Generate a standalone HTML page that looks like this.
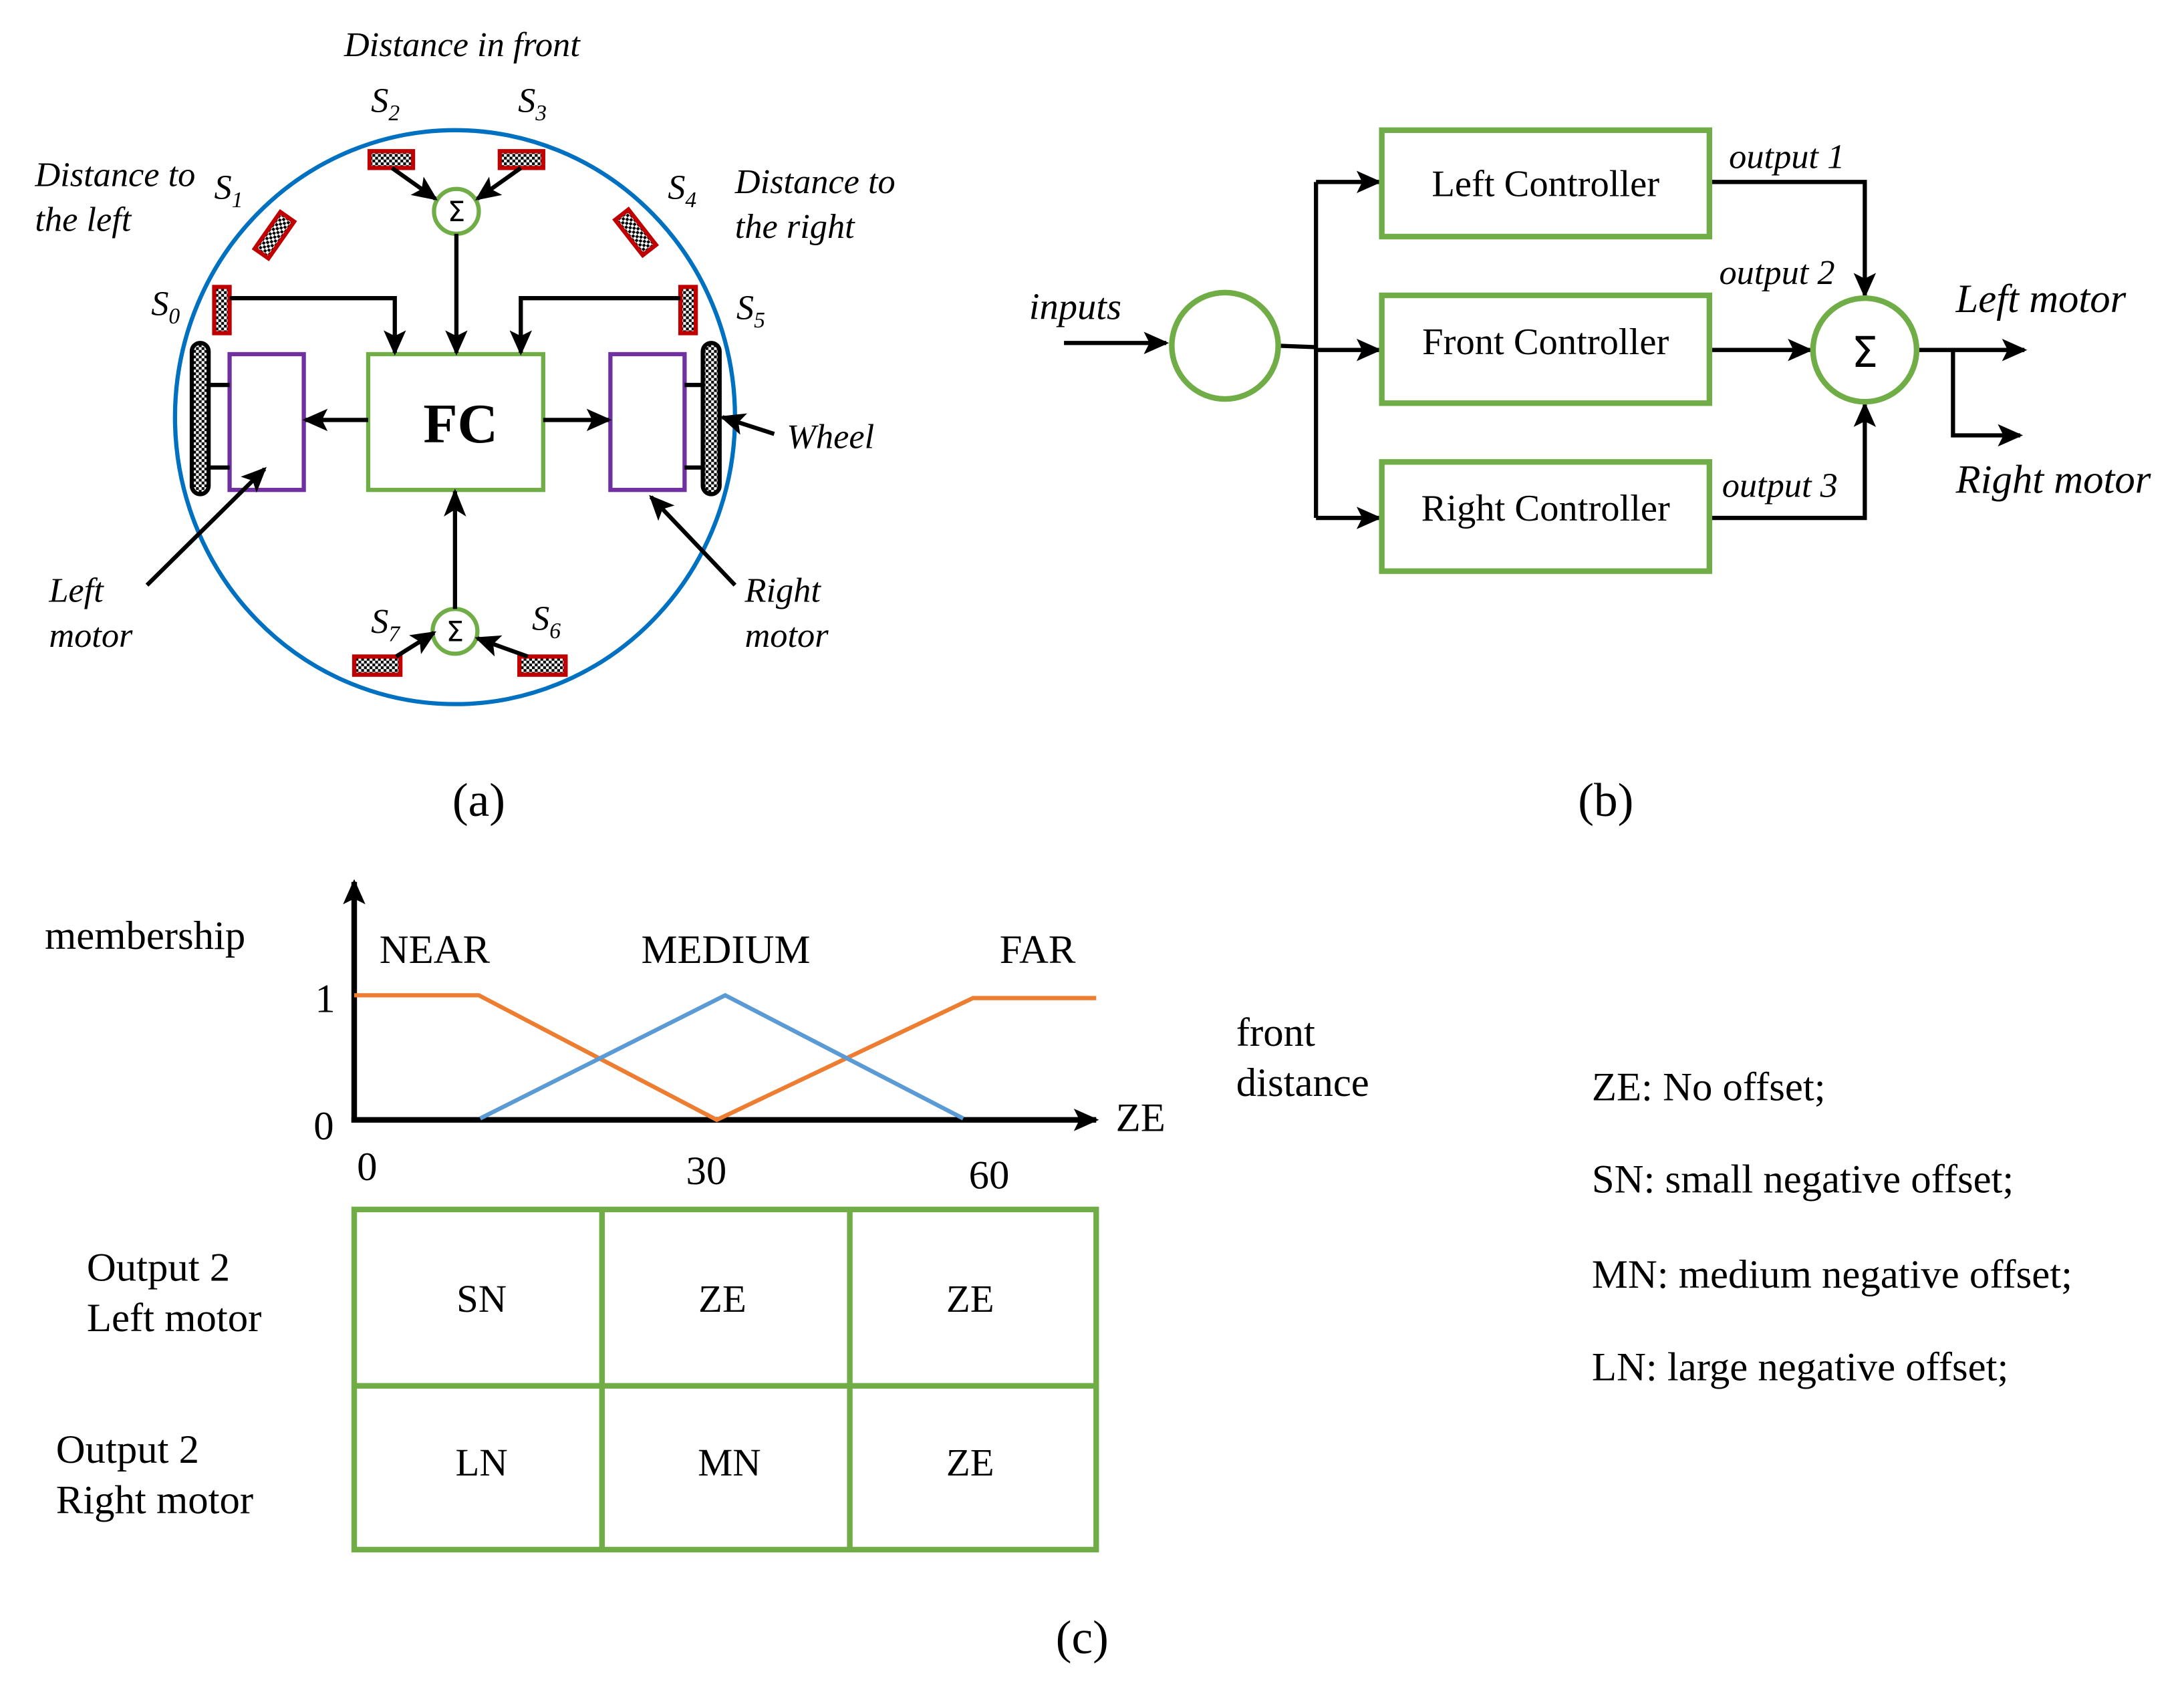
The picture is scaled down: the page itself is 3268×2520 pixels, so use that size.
<!DOCTYPE html>
<html><head><meta charset="utf-8"><style>html,body{margin:0;padding:0;background:#fff}svg{display:block}</style></head>
<body>
<svg width="3268" height="2520" viewBox="0 0 1560 1203" preserveAspectRatio="none" xmlns="http://www.w3.org/2000/svg" font-family="Liberation Serif, serif">
<defs>
<pattern id="ck" width="4" height="4" patternUnits="userSpaceOnUse"><rect width="4" height="4" fill="#fff"/><rect width="2" height="2" fill="#000"/><rect x="2" y="2" width="2" height="2" fill="#000"/></pattern>
<marker id="ab" markerWidth="20" markerHeight="16" refX="18" refY="8" orient="auto" markerUnits="userSpaceOnUse"><path d="M0,0 L20,8 L0,16 L5,8z" fill="#000"/></marker>
<marker id="am" markerWidth="18" markerHeight="16" refX="16" refY="8" orient="auto" markerUnits="userSpaceOnUse"><path d="M0,0 L18,8 L0,16 L4,8z" fill="#000"/></marker>
</defs>
<g font-style="italic" font-size="25" fill="#000">
<text x="330" y="40" text-anchor="middle">Distance in front</text>
<text x="265" y="80">S<tspan font-size="16" dy="6">2</tspan></text>
<text x="370" y="80">S<tspan font-size="16" dy="6">3</tspan></text>
<text x="25" y="133">Distance to</text><text x="25" y="165">the left</text>
<text x="153" y="142">S<tspan font-size="16" dy="6">1</tspan></text>
<text x="525" y="138">Distance to</text><text x="525" y="170">the right</text>
<text x="477" y="142">S<tspan font-size="16" dy="6">4</tspan></text>
<text x="108" y="225">S<tspan font-size="16" dy="6">0</tspan></text>
<text x="526" y="228">S<tspan font-size="16" dy="6">5</tspan></text>
<text x="562" y="320">Wheel</text>
<text x="35" y="430">Left</text><text x="35" y="462">motor</text>
<text x="532" y="430">Right</text><text x="532" y="462">motor</text>
<text x="265" y="452">S<tspan font-size="16" dy="6">7</tspan></text>
<text x="380" y="450">S<tspan font-size="16" dy="6">6</tspan></text>
<text x="735" y="228" font-size="27">inputs</text>
</g>
<ellipse cx="325" cy="298" rx="200" ry="205" fill="none" stroke="#0070c0" stroke-width="3"/>
<g stroke="#c00000" stroke-width="3" fill="url(#ck)">
<rect x="264" y="108" width="31" height="12"/><rect x="357" y="108" width="31" height="12"/>
<rect x="153" y="205" width="11" height="33"/><rect x="486" y="205" width="11" height="33"/>
<rect x="-6" y="-16" width="12" height="32" transform="translate(196,168) rotate(35)"/>
<rect x="-6" y="-16" width="12" height="32" transform="translate(454,166) rotate(-38)"/>
<rect x="253" y="469" width="33" height="13"/><rect x="371" y="469" width="33" height="13"/>
</g>
<g fill="#fff" stroke="#70ad47" stroke-width="3">
<circle cx="326" cy="151" r="16"/><circle cx="325" cy="451" r="16"/>
<rect x="263" y="253" width="125" height="97"/>
</g>
<text x="326" y="158" text-anchor="middle" font-size="20" font-family="DejaVu Sans, sans-serif">Σ</text>
<text x="325" y="458" text-anchor="middle" font-size="20" font-family="DejaVu Sans, sans-serif">Σ</text>
<text x="329" y="316" text-anchor="middle" font-size="40" font-weight="bold">FC</text>
<g fill="#fff" stroke="#7030a0" stroke-width="3"><rect x="164" y="253" width="53" height="97"/><rect x="436" y="253" width="53" height="97"/></g>
<g stroke="#000" stroke-width="3" fill="none">
<rect x="137" y="245" width="12" height="108" rx="6" fill="url(#ck)"/><rect x="502" y="245" width="12" height="108" rx="6" fill="url(#ck)"/>
<path d="M149 275H164M149 334H164M489 275H502M489 334H502"/>
<path d="M280 120L311 142" marker-end="url(#am)"/><path d="M372 120L341 142" marker-end="url(#am)"/>
<path d="M326 167V252" marker-end="url(#am)"/>
<path d="M164 213H282V252" marker-end="url(#am)"/><path d="M486 213H372V252" marker-end="url(#am)"/>
<path d="M263 300H218" marker-end="url(#am)"/><path d="M388 300H435" marker-end="url(#am)"/>
<path d="M325 435V351" marker-end="url(#ab)"/>
<path d="M283 469L310 452" marker-end="url(#am)"/><path d="M377 469L341 456" marker-end="url(#am)"/>
<path d="M553 310L516 298" marker-end="url(#am)"/>
<path d="M105 418L189 335" marker-end="url(#am)"/><path d="M525 418L465 355" marker-end="url(#am)"/>
</g>
<text x="342" y="583" text-anchor="middle" font-size="34">(a)</text>

<g stroke="#000" stroke-width="3" fill="none">
<path d="M760 245H833" marker-end="url(#am)"/>
<path d="M913 247L940 248"/><path d="M940 130V370"/>
<path d="M940 130H985" marker-end="url(#am)"/><path d="M940 250H985" marker-end="url(#am)"/><path d="M940 370H985" marker-end="url(#am)"/>
<path d="M1221 130H1332V211" marker-end="url(#am)"/>
<path d="M1221 250H1293" marker-end="url(#am)"/>
<path d="M1221 370H1332V289" marker-end="url(#am)"/>
<path d="M1369 250H1446" marker-end="url(#am)"/>
<path d="M1395 250V311H1443" marker-end="url(#am)"/>
</g>
<g fill="#fff" stroke="#70ad47" stroke-width="4">
<circle cx="875" cy="247" r="38"/><circle cx="1332" cy="250" r="37"/>
<rect x="987" y="93" width="234" height="76"/><rect x="987" y="211" width="234" height="77"/><rect x="987" y="330" width="234" height="78"/>
</g>
<text x="1332" y="262" text-anchor="middle" font-size="30" font-family="DejaVu Sans, sans-serif">Σ</text>
<g font-size="27" text-anchor="middle"><text x="1104" y="140">Left Controller</text><text x="1104" y="253">Front Controller</text><text x="1104" y="372">Right Controller</text></g>
<g font-style="italic" font-size="25"><text x="1235" y="120">output 1</text><text x="1228" y="203">output 2</text><text x="1230" y="355">output 3</text></g>
<g font-style="italic" font-size="29"><text x="1397" y="223">Left motor</text><text x="1397" y="352">Right motor</text></g>
<text x="1147" y="583" text-anchor="middle" font-size="34">(b)</text>

<g stroke="#000" stroke-width="4" fill="none">
<path d="M253 802V630" marker-end="url(#am)"/><path d="M251 800H783" marker-end="url(#am)"/>
</g>
<polyline points="253,711 342,711 512,800 695,713 783,713" fill="none" stroke="#ed7d31" stroke-width="3"/>
<polyline points="343,799 518,711 688,799" fill="none" stroke="#5b9bd5" stroke-width="3"/>
<g font-size="29">
<text x="32" y="678">membership</text>
<text x="225" y="723">1</text><text x="224" y="814">0</text>
<text x="255" y="843">0</text><text x="490" y="846">30</text><text x="692" y="849">60</text>
<text x="797" y="808">ZE</text>
<text x="271" y="688">NEAR</text><text x="458" y="688">MEDIUM</text><text x="714" y="688">FAR</text>
<text x="883" y="747">front</text><text x="883" y="783">distance</text>
<text x="62" y="915">Output 2</text><text x="62" y="951">Left motor</text>
<text x="40" y="1045">Output 2</text><text x="40" y="1081">Right motor</text>
<text x="1137" y="786">ZE: No offset;</text>
<text x="1137" y="852">SN: small negative offset;</text>
<text x="1137" y="920">MN: medium negative offset;</text>
<text x="1137" y="986">LN: large negative offset;</text>
</g>
<g fill="none" stroke="#70ad47" stroke-width="4">
<rect x="253" y="864" width="530" height="243"/><path d="M430 864V1107M607 864V1107M253 990H783"/>
</g>
<g font-size="28" text-anchor="middle">
<text x="344" y="937">SN</text><text x="516" y="937">ZE</text><text x="693" y="937">ZE</text>
<text x="344" y="1054">LN</text><text x="521" y="1054">MN</text><text x="693" y="1054">ZE</text>
</g>
<text x="773" y="1181" text-anchor="middle" font-size="34">(c)</text>
</svg>
</body></html>
